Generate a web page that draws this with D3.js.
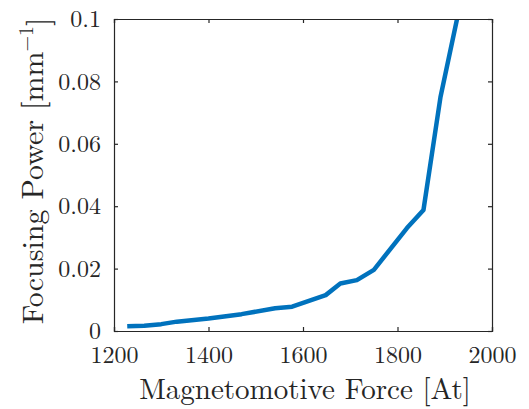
<!DOCTYPE html>
<html>
<head>
<meta charset="utf-8">
<script src="https://cdn.jsdelivr.net/npm/d3@7"></script>
<style>
  body { margin: 0; background: #fff; }
  text { font-family: "Latin Modern Roman", "CMU Serif", "Liberation Serif", serif; fill: #262626; }
</style>
</head>
<body>
<svg id="chart" width="529" height="409"></svg>
<script>
// magnetomotive force [At] vs focusing power [1/mm]
const mmf   = [1228, 1264, 1300, 1333, 1400, 1470, 1541, 1577, 1648, 1679, 1714, 1750, 1820, 1855, 1891, 1926];
const power = [0.0015, 0.0017, 0.0022, 0.0030, 0.0040, 0.0054, 0.0073, 0.0078, 0.0115, 0.0152, 0.0163, 0.0196, 0.0330, 0.0388, 0.0750, 0.1000];
const xTicks = [1200, 1400, 1600, 1800, 2000];
const yTicks = [0, 0.02, 0.04, 0.06, 0.08, 0.1];

const svg = d3.select("#chart");
const margin = { top: 19, right: 37, bottom: 78, left: 114 };
const width = +svg.attr("width"), height = +svg.attr("height");
const chartWidth  = width  - margin.left - margin.right;
const chartHeight = height - margin.top  - margin.bottom;

const g = svg.append("g")
  .attr("transform", `translate(${margin.left},${margin.top})`);

const x = d3.scaleLinear().domain([1200, 2000]).range([0, chartWidth]);
const y = d3.scaleLinear().domain([0, 0.1]).range([chartHeight, 0]);

const axisColor = "#262626";
const tickLen = 4;

// clip so the line stops at the top of the box
g.append("clipPath").attr("id", "clip")
  .append("rect").attr("width", chartWidth).attr("height", chartHeight);

const data = mmf.map((v, i) => ({ x: v, y: power[i] }));
g.append("path")
  .datum(data)
  .attr("clip-path", "url(#clip)")
  .attr("fill", "none")
  .attr("stroke", "#0072BD")
  .attr("stroke-width", 4.5)
  .attr("stroke-linejoin", "round")
  .attr("d", d3.line().x(d => x(d.x)).y(d => y(d.y)));

// axes, ticks inward
const fmtY = d => d === 0 ? "0" : String(+d.toFixed(2));
const xAxis = g.append("g").attr("transform", `translate(0,${chartHeight})`)
  .call(d3.axisBottom(x).tickValues(xTicks).tickSize(-tickLen).tickPadding(15).tickFormat(d3.format("d")));
const xTop = g.append("g")
  .call(d3.axisTop(x).tickValues(xTicks).tickSize(-tickLen).tickFormat(""));
const yAxis = g.append("g")
  .call(d3.axisLeft(y).tickValues(yTicks).tickSize(-tickLen).tickPadding(13).tickFormat(fmtY));
const yRight = g.append("g").attr("transform", `translate(${chartWidth},0)`)
  .call(d3.axisRight(y).tickValues(yTicks).tickSize(-tickLen).tickFormat(""));

[xAxis, xTop, yAxis, yRight].forEach(a => {
  a.select(".domain").attr("stroke", axisColor).attr("stroke-width", 1.2);
  a.selectAll(".tick line").attr("stroke", axisColor).attr("stroke-width", 1.2);
  a.selectAll("text").style("font-size", "24px").attr("fill", axisColor);
});
xAxis.selectAll("text").attr("dy", "0.71em");

// axis titles
g.append("text")
  .attr("x", chartWidth / 2 + 2)
  .attr("y", chartHeight + 68)
  .attr("text-anchor", "middle")
  .style("font-size", "29px")
  .text("Magnetomotive Force [At]");

const yt = g.append("text")
  .attr("transform", `translate(${-71},${chartHeight / 2 - 4}) rotate(-90)`)
  .attr("text-anchor", "middle")
  .style("font-size", "30px");
yt.append("tspan").text("Focusing Power [mm");
yt.append("tspan").attr("dy", "-0.5em").style("font-size", "20px").text("\u22121");
yt.append("tspan").attr("dy", "0.5em").text("]");
</script>
</body>
</html>
